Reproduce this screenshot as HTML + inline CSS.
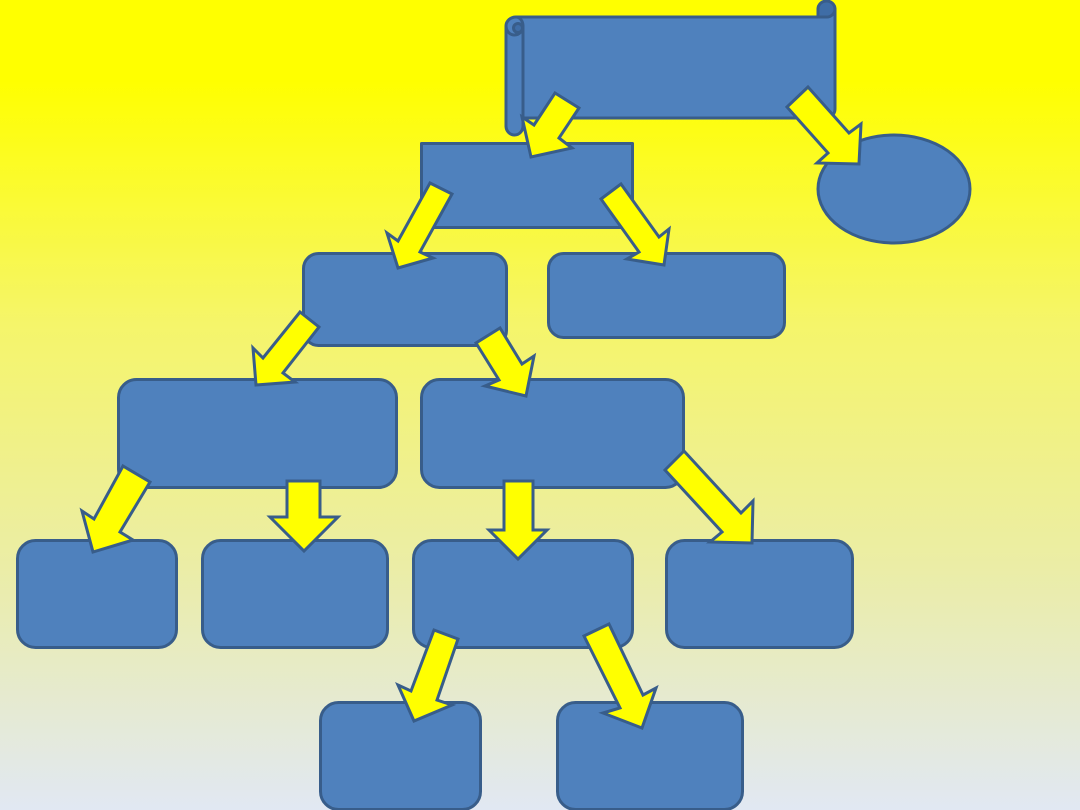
<!DOCTYPE html>
<html>
<head>
<meta charset="utf-8">
<style>
html,body{margin:0;padding:0;width:1080px;height:810px;overflow:hidden}
svg{display:block}
</style>
</head>
<body>
<svg width="1080" height="810" viewBox="0 0 1080 810" xmlns="http://www.w3.org/2000/svg">
<defs>
<linearGradient id="bg" x1="0" y1="0" x2="0" y2="1">
<stop offset="0" stop-color="#ffff00"/>
<stop offset="0.1" stop-color="#ffff00"/>
<stop offset="0.4" stop-color="#f5f56a"/>
<stop offset="0.7" stop-color="#ebeda6"/>
<stop offset="1" stop-color="#e1e8f3"/>
</linearGradient>
</defs>
<rect width="1080" height="810" fill="url(#bg)"/>
<g fill="#4f81bd" stroke="#385d8a" stroke-width="3" stroke-linejoin="round">
<path d="M516 17H818V9a9 8 0 0 1 17 0V109a9 9 0 0 1-9 9H523V126a8.500 9 0 0 1-17 0V26a10 9 0 0 1 10-9Z"/>
<path d="M506 26a8.500 9 0 0 0 17 0a7 9 0 0 0-7-9" fill="none"/>
<path d="M523 26V118" fill="none"/>
<circle cx="518" cy="28" r="4.500" fill="#3f6da6"/>
<path d="M818 17V9a8.500 8 0 0 1 17 0a8.500 8 0 0 1-8.500 8Z" fill="#3f6da6"/>
<rect x="421.500" y="143.500" width="211" height="84"/>
<ellipse cx="894" cy="189" rx="76" ry="54"/>
<rect x="303.500" y="253.500" width="203" height="92" rx="15"/>
<rect x="548.500" y="253.500" width="236" height="84" rx="15"/>
<rect x="118.500" y="379.500" width="278" height="108" rx="18"/>
<rect x="421.500" y="379.500" width="262" height="108" rx="18"/>
<rect x="17.500" y="540.500" width="159" height="107" rx="18"/>
<rect x="202.500" y="540.500" width="185" height="107" rx="18"/>
<rect x="413.500" y="540.500" width="219" height="107" rx="18"/>
<rect x="666.500" y="540.500" width="186" height="107" rx="18"/>
<rect x="320.500" y="702.500" width="160" height="107" rx="18"/>
<rect x="557.500" y="702.500" width="185" height="107" rx="18"/>
</g>
<g fill="#ffff00" stroke="#385d8a" stroke-width="3" stroke-linejoin="miter" stroke-miterlimit="10">
<polygon points="555,93 579,108 559,138 572,148 531,157 522,117 534,125"/>
<polygon points="808,87 787,107 828,153 817,163 859,164 861,124 849,133"/>
<polygon points="430,183 452,194 420,252 433,258 398,268 387,233 398,241"/>
<polygon points="621,184 601,199 639,252 627,259 664,265 669,229 659,237"/>
<polygon points="300,312 319,327 283,373 295,382 256,385 253,348 263,358"/>
<polygon points="500,328 476,343 499,380 485,386 526,396 534,356 522,364"/>
<polygon points="123,466 150,482 120,532 133,540 93,552 82,511 94,519"/>
<polygon points="287,481 320,481 320,517 338,517 304,551 270,517 287,517"/>
<polygon points="504,481 533,481 533,530 547,530 518,559 489,530 504,530"/>
<polygon points="684,451 665,470 722,532 710,542 752,543 753,501 741,513"/>
<polygon points="434,630 458,639 437,700 452,705 414,721 398,685 411,691"/>
<polygon points="609,624 584,636 620,708 603,713 642,728 656,688 643,695"/>
</g>
</svg>
</body>
</html>
